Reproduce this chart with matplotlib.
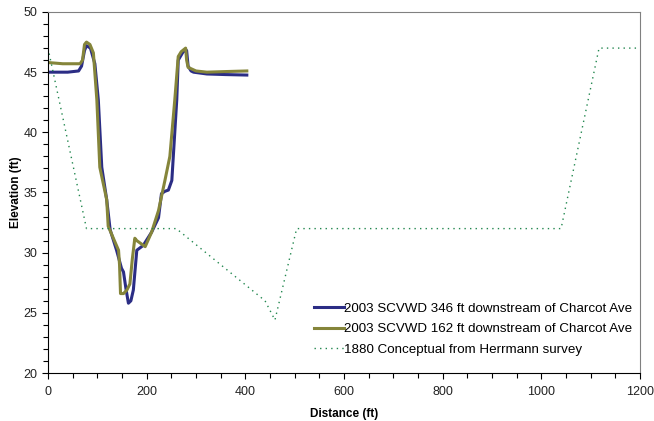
import matplotlib
matplotlib.use("Agg")
import matplotlib.pyplot as plt
from matplotlib.ticker import MultipleLocator

plt.rcParams['font.family'] = ['Liberation Sans', 'DejaVu Sans']

# 2003 SCVWD 346 ft downstream of Charcot Ave
x346 = [0, 40, 62, 68, 74, 78, 86, 95, 102, 109, 119, 126, 139, 149, 153, 158, 163, 168, 173, 180, 193, 210, 224, 230, 237, 244, 251, 254, 261, 264, 274, 281, 284, 290, 295, 322, 360, 403]
y346 = [45.0, 45.0, 45.1, 45.5, 46.8, 47.2, 47.0, 45.7, 42.7, 37.1, 34.4, 31.9, 30.2, 28.7, 28.4, 27.0, 25.8, 26.0, 26.9, 30.2, 30.6, 31.7, 32.9, 34.9, 35.1, 35.2, 36.0, 38.0, 42.7, 46.0, 46.7, 46.8, 45.5, 45.1, 45.0, 44.85, 44.8, 44.76]

# 2003 SCVWD 162 ft downstream of Charcot Ave
x162 = [0, 30, 65, 70, 74, 78, 85, 92, 99, 105, 119, 122, 143, 145, 147, 153, 160, 166, 171, 176, 180, 197, 210, 224, 237, 247, 257, 264, 270, 276, 279, 281, 284, 300, 322, 360, 403]
y162 = [45.8, 45.7, 45.7, 46.0, 47.3, 47.5, 47.3, 46.6, 42.7, 37.1, 34.4, 32.2, 30.2, 29.0, 26.6, 26.6, 26.9, 27.4, 29.5, 31.2, 31.0, 30.5, 31.7, 33.5, 36.0, 38.0, 42.7, 46.3, 46.7, 46.9, 47.0, 46.0, 45.4, 45.1, 45.0, 45.05, 45.1]

# 1880 Conceptual from Herrmann survey
x1880 = [0, 78, 260, 440, 460, 504, 1040, 1117, 1200]
y1880 = [47.0, 32.0, 32.0, 26.0, 24.4, 32.0, 32.0, 47.0, 47.0]

labels = ["2003 SCVWD 346 ft downstream of Charcot Ave",
          "2003 SCVWD 162 ft downstream of Charcot Ave",
          "1880 Conceptual from Herrmann survey"]

fig = plt.figure(figsize=(6.54, 4.21), dpi=100)
ax = fig.add_axes([48/654, 1-373/421, (640-48)/654, (373-12)/421])

ax.plot(x346, y346, color='#2b2d85', lw=2.2, solid_joinstyle='round', label=labels[0])
ax.plot(x162, y162, color='#85853a', lw=2.2, solid_joinstyle='round', label=labels[1])
ax.plot(x1880, y1880, color='#22874f', lw=1.0, ls=(0, (1, 3)), label=labels[2])

ax.set_xlim(0, 1200)
ax.set_ylim(20, 50)
ax.xaxis.set_major_locator(MultipleLocator(200))
ax.xaxis.set_minor_locator(MultipleLocator(50))
ax.yaxis.set_major_locator(MultipleLocator(5))
ax.yaxis.set_minor_locator(MultipleLocator(1))
ax.tick_params(axis='both', which='both', direction='out', labelsize=9, colors='black',
               labelcolor='#222222', width=0.8)
ax.tick_params(which='major', length=4.5)
ax.tick_params(which='minor', length=3.5)
ax.tick_params(axis='x', pad=5)
ax.tick_params(axis='y', pad=3)
for s in ['top', 'right']:
    ax.spines[s].set_color('#808080')
for s in ['left', 'bottom']:
    ax.spines[s].set_color('black')

ax.set_xlabel("Distance (ft)", fontsize=8.5, fontweight='bold', labelpad=7)
ax.set_ylabel("Elevation (ft)", fontsize=8.5, fontweight='bold', labelpad=1)

ax.legend(loc='lower right', frameon=False, fontsize=9.6, handlelength=2.25,
          handletextpad=0.0, labelspacing=0.6, borderaxespad=0.0,
          bbox_to_anchor=(0.995, 0.033))

fig.savefig("out.png", dpi=100)
